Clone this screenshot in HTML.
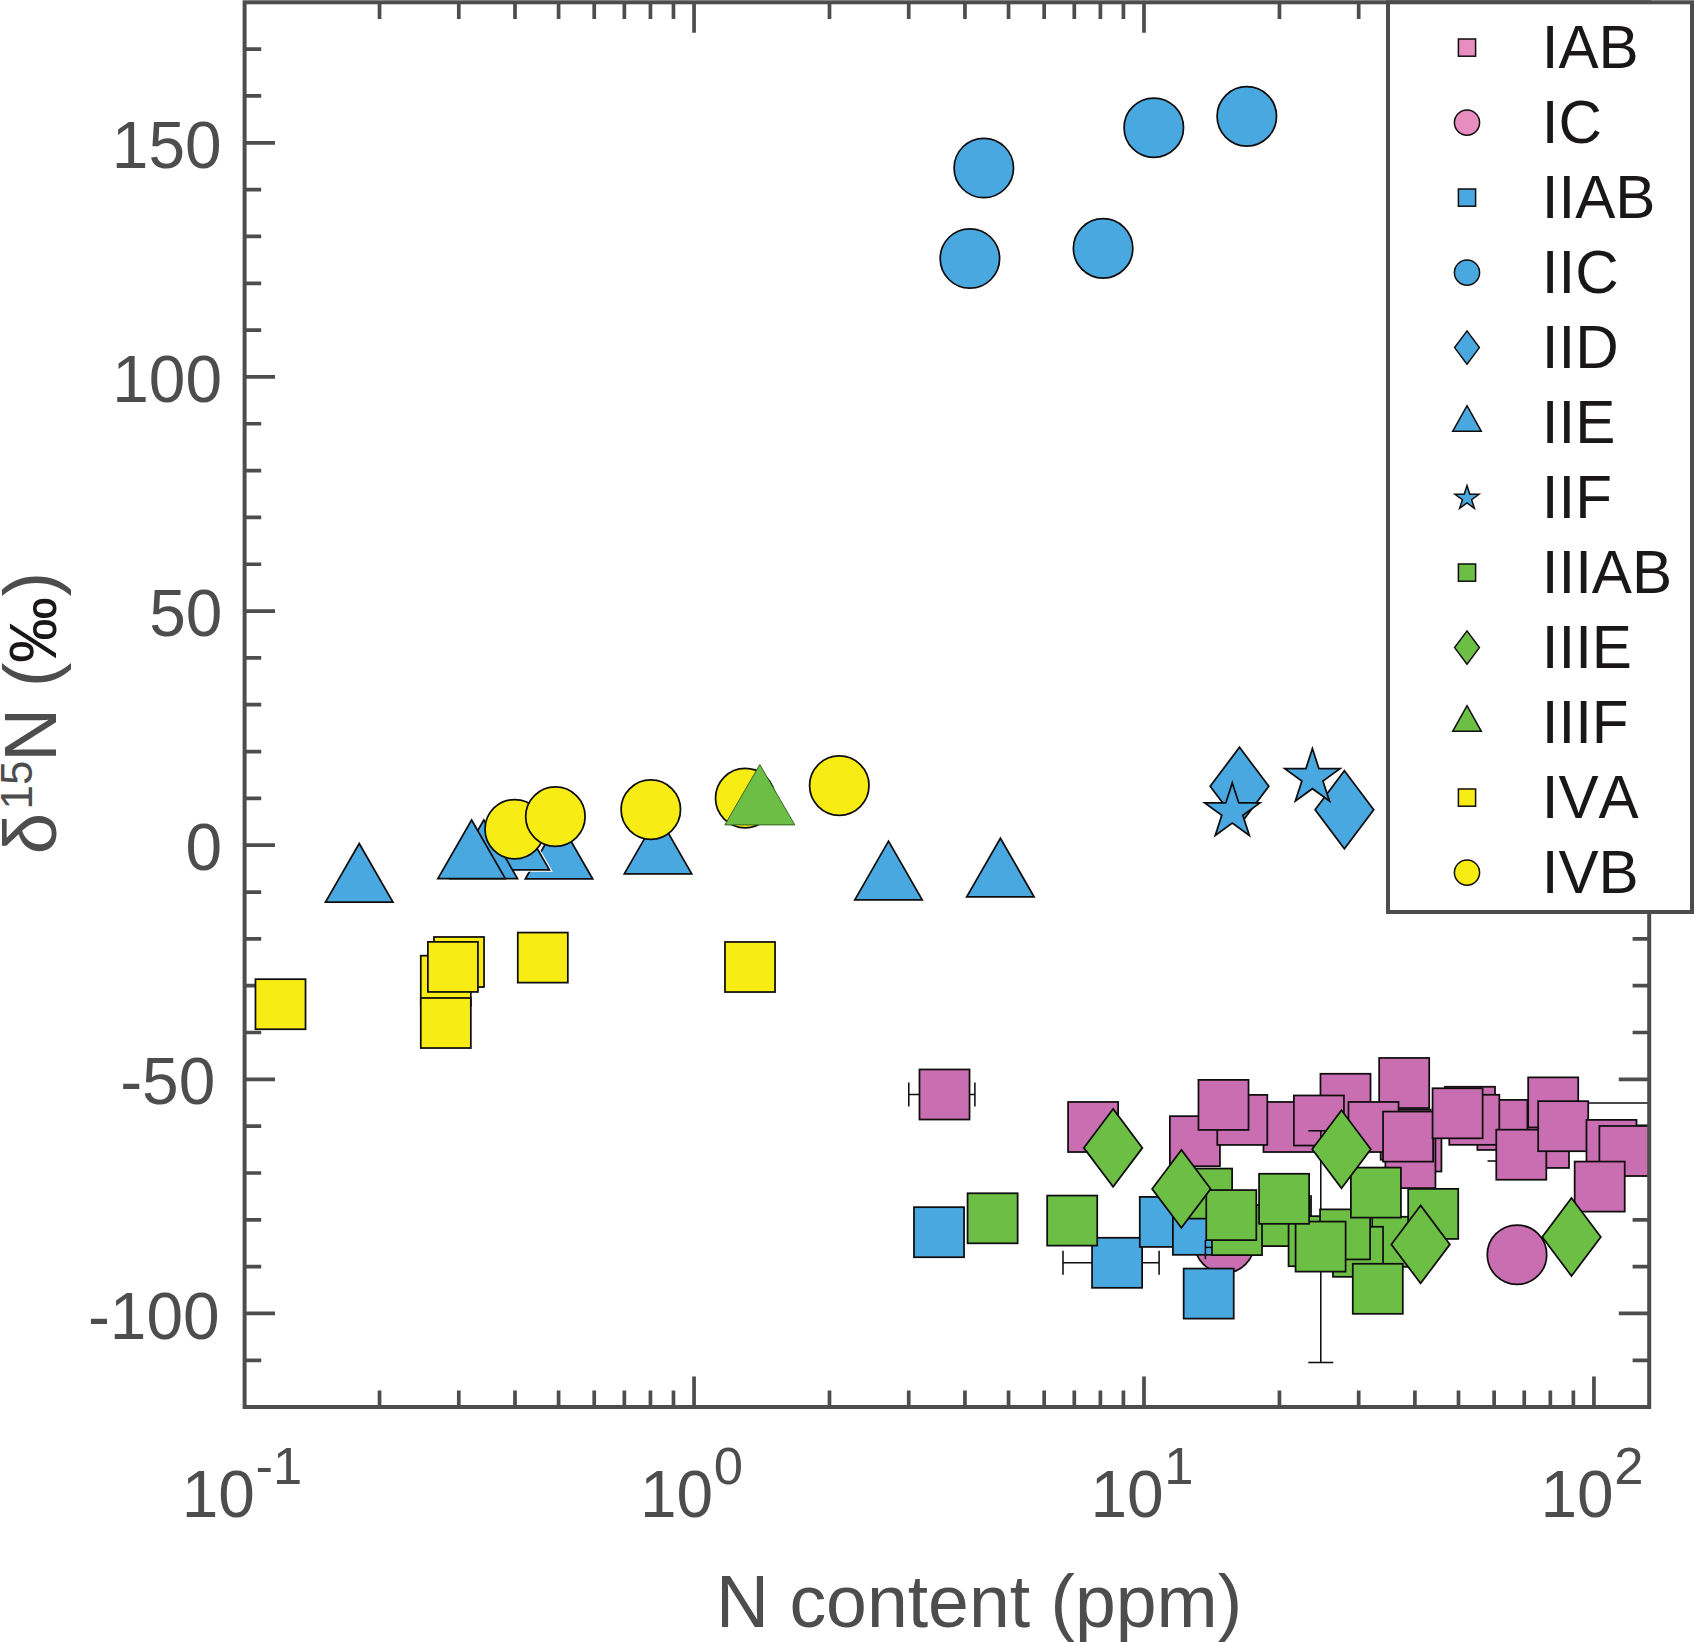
<!DOCTYPE html>
<html lang="en"><head><meta charset="utf-8"><title>N content vs delta-15N</title>
<style>html,body{margin:0;padding:0;background:#fff;}svg{display:block;}text{font-family:"Liberation Sans",sans-serif;}</style></head><body>
<svg width="1694" height="1642" viewBox="0 0 1694 1642">
<rect width="1694" height="1642" fill="#fff"/>
<g stroke="#4d4d4d" fill="none" stroke-width="3.7">
<path d="M244.6 1360.3h16.6M1649.2 1360.3h-16.6"/>
<path d="M244.6 1313.47h30.4M1649.2 1313.47h-30.4"/>
<path d="M244.6 1266.64h16.6M1649.2 1266.64h-16.6"/>
<path d="M244.6 1219.82h16.6M1649.2 1219.82h-16.6"/>
<path d="M244.6 1172.99h16.6M1649.2 1172.99h-16.6"/>
<path d="M244.6 1126.16h16.6M1649.2 1126.16h-16.6"/>
<path d="M244.6 1079.34h30.4M1649.2 1079.34h-30.4"/>
<path d="M244.6 1032.51h16.6M1649.2 1032.51h-16.6"/>
<path d="M244.6 985.68h16.6M1649.2 985.68h-16.6"/>
<path d="M244.6 938.85h16.6M1649.2 938.85h-16.6"/>
<path d="M244.6 892.03h16.6M1649.2 892.03h-16.6"/>
<path d="M244.6 845.2h30.4M1649.2 845.2h-30.4"/>
<path d="M244.6 798.37h16.6M1649.2 798.37h-16.6"/>
<path d="M244.6 751.55h16.6M1649.2 751.55h-16.6"/>
<path d="M244.6 704.72h16.6M1649.2 704.72h-16.6"/>
<path d="M244.6 657.89h16.6M1649.2 657.89h-16.6"/>
<path d="M244.6 611.07h30.4M1649.2 611.07h-30.4"/>
<path d="M244.6 564.24h16.6M1649.2 564.24h-16.6"/>
<path d="M244.6 517.41h16.6M1649.2 517.41h-16.6"/>
<path d="M244.6 470.58h16.6M1649.2 470.58h-16.6"/>
<path d="M244.6 423.76h16.6M1649.2 423.76h-16.6"/>
<path d="M244.6 376.93h30.4M1649.2 376.93h-30.4"/>
<path d="M244.6 330.1h16.6M1649.2 330.1h-16.6"/>
<path d="M244.6 283.28h16.6M1649.2 283.28h-16.6"/>
<path d="M244.6 236.45h16.6M1649.2 236.45h-16.6"/>
<path d="M244.6 189.62h16.6M1649.2 189.62h-16.6"/>
<path d="M244.6 142.8h30.4M1649.2 142.8h-30.4"/>
<path d="M244.6 95.97h16.6M1649.2 95.97h-16.6"/>
<path d="M244.6 49.14h16.6M1649.2 49.14h-16.6"/>
<path d="M379.55 1407v-16.6M379.55 2.3v16.6"/>
<path d="M458.78 1407v-16.6M458.78 2.3v16.6"/>
<path d="M515 1407v-16.6M515 2.3v16.6"/>
<path d="M558.6 1407v-16.6M558.6 2.3v16.6"/>
<path d="M594.23 1407v-16.6M594.23 2.3v16.6"/>
<path d="M624.35 1407v-16.6M624.35 2.3v16.6"/>
<path d="M650.45 1407v-16.6M650.45 2.3v16.6"/>
<path d="M673.46 1407v-16.6M673.46 2.3v16.6"/>
<path d="M694.05 1407v-30.4M694.05 2.3v30.4"/>
<path d="M829.5 1407v-16.6M829.5 2.3v16.6"/>
<path d="M908.73 1407v-16.6M908.73 2.3v16.6"/>
<path d="M964.95 1407v-16.6M964.95 2.3v16.6"/>
<path d="M1008.55 1407v-16.6M1008.55 2.3v16.6"/>
<path d="M1044.18 1407v-16.6M1044.18 2.3v16.6"/>
<path d="M1074.3 1407v-16.6M1074.3 2.3v16.6"/>
<path d="M1100.4 1407v-16.6M1100.4 2.3v16.6"/>
<path d="M1123.41 1407v-16.6M1123.41 2.3v16.6"/>
<path d="M1144 1407v-30.4M1144 2.3v30.4"/>
<path d="M1279.45 1407v-16.6M1279.45 2.3v16.6"/>
<path d="M1358.68 1407v-16.6M1358.68 2.3v16.6"/>
<path d="M1414.9 1407v-16.6M1414.9 2.3v16.6"/>
<path d="M1458.5 1407v-16.6M1458.5 2.3v16.6"/>
<path d="M1494.13 1407v-16.6M1494.13 2.3v16.6"/>
<path d="M1524.25 1407v-16.6M1524.25 2.3v16.6"/>
<path d="M1550.35 1407v-16.6M1550.35 2.3v16.6"/>
<path d="M1573.36 1407v-16.6M1573.36 2.3v16.6"/>
<path d="M1593.95 1407v-30.4M1593.95 2.3v30.4"/>
</g>
<clipPath id="ax"><rect x="244.6" y="2.3" width="1404.6" height="1404.7"/></clipPath>
<g clip-path="url(#ax)">
<line x1="908.8" y1="1094.5" x2="974.9" y2="1094.5" stroke="#0f0d0e" stroke-width="1.55"/>
<line x1="908.8" y1="1082.5" x2="908.8" y2="1106.5" stroke="#0f0d0e" stroke-width="1.55"/>
<line x1="974.9" y1="1082.5" x2="974.9" y2="1106.5" stroke="#0f0d0e" stroke-width="1.55"/>
<line x1="1578" y1="1103" x2="1660" y2="1103" stroke="#0f0d0e" stroke-width="1.55"/>
<line x1="1649.4" y1="1091" x2="1649.4" y2="1116" stroke="#0f0d0e" stroke-width="1.55"/>
<line x1="1487.5" y1="1161" x2="1500" y2="1161" stroke="#0f0d0e" stroke-width="1.55"/>
<rect x="919.48" y="1069.47" width="50.05" height="50.05" fill="#c96eb0" stroke="#0f0d0e" stroke-width="1.75"/>
<rect x="1068.07" y="1101.97" width="50.05" height="50.05" fill="#c96eb0" stroke="#0f0d0e" stroke-width="1.75"/>
<rect x="1169.88" y="1116.17" width="50.05" height="50.05" fill="#c96eb0" stroke="#0f0d0e" stroke-width="1.75"/>
<rect x="1263.47" y="1101.97" width="50.05" height="50.05" fill="#c96eb0" stroke="#0f0d0e" stroke-width="1.75"/>
<rect x="1217.27" y="1094.88" width="50.05" height="50.05" fill="#c96eb0" stroke="#0f0d0e" stroke-width="1.75"/>
<rect x="1198.47" y="1079.88" width="50.05" height="50.05" fill="#c96eb0" stroke="#0f0d0e" stroke-width="1.75"/>
<rect x="1320.47" y="1073.77" width="50.05" height="50.05" fill="#c96eb0" stroke="#0f0d0e" stroke-width="1.75"/>
<rect x="1293.88" y="1095.47" width="50.05" height="50.05" fill="#c96eb0" stroke="#0f0d0e" stroke-width="1.75"/>
<rect x="1379.17" y="1057.97" width="50.05" height="50.05" fill="#c96eb0" stroke="#0f0d0e" stroke-width="1.75"/>
<rect x="1380.67" y="1109.67" width="50.05" height="50.05" fill="#c96eb0" stroke="#0f0d0e" stroke-width="1.75"/>
<rect x="1391.38" y="1121.47" width="50.05" height="50.05" fill="#c96eb0" stroke="#0f0d0e" stroke-width="1.75"/>
<rect x="1348.47" y="1101.97" width="50.05" height="50.05" fill="#c96eb0" stroke="#0f0d0e" stroke-width="1.75"/>
<rect x="1385.38" y="1138.07" width="50.05" height="50.05" fill="#c96eb0" stroke="#0f0d0e" stroke-width="1.75"/>
<rect x="1383.07" y="1111.57" width="50.05" height="50.05" fill="#c96eb0" stroke="#0f0d0e" stroke-width="1.75"/>
<rect x="1444.97" y="1086.77" width="50.05" height="50.05" fill="#c96eb0" stroke="#0f0d0e" stroke-width="1.75"/>
<rect x="1518.97" y="1117.88" width="50.05" height="50.05" fill="#c96eb0" stroke="#0f0d0e" stroke-width="1.75"/>
<rect x="1477.38" y="1099.88" width="50.05" height="50.05" fill="#c96eb0" stroke="#0f0d0e" stroke-width="1.75"/>
<rect x="1449.27" y="1094.77" width="50.05" height="50.05" fill="#c96eb0" stroke="#0f0d0e" stroke-width="1.75"/>
<rect x="1432.57" y="1088.27" width="50.05" height="50.05" fill="#c96eb0" stroke="#0f0d0e" stroke-width="1.75"/>
<rect x="1528.17" y="1077.38" width="50.05" height="50.05" fill="#c96eb0" stroke="#0f0d0e" stroke-width="1.75"/>
<rect x="1496.27" y="1129.67" width="50.05" height="50.05" fill="#c96eb0" stroke="#0f0d0e" stroke-width="1.75"/>
<rect x="1538.17" y="1101.17" width="50.05" height="50.05" fill="#c96eb0" stroke="#0f0d0e" stroke-width="1.75"/>
<rect x="1586.47" y="1119.88" width="50.05" height="50.05" fill="#c96eb0" stroke="#0f0d0e" stroke-width="1.75"/>
<rect x="1599.38" y="1125.97" width="50.05" height="50.05" fill="#c96eb0" stroke="#0f0d0e" stroke-width="1.75"/>
<rect x="1574.67" y="1161.57" width="50.05" height="50.05" fill="#c96eb0" stroke="#0f0d0e" stroke-width="1.75"/>
<circle cx="1224.5" cy="1243.4" r="29.7" fill="#c96eb0" stroke="#0f0d0e" stroke-width="1.75"/>
<circle cx="1517" cy="1254.7" r="29.7" fill="#c96eb0" stroke="#0f0d0e" stroke-width="1.75"/>
<line x1="1063" y1="1262.8" x2="1159.1" y2="1262.8" stroke="#0f0d0e" stroke-width="1.55"/>
<line x1="1063" y1="1250.8" x2="1063" y2="1274.8" stroke="#0f0d0e" stroke-width="1.55"/>
<line x1="1159.1" y1="1250.8" x2="1159.1" y2="1274.8" stroke="#0f0d0e" stroke-width="1.55"/>
<rect x="913.98" y="1207.17" width="50.05" height="50.05" fill="#49a8df" stroke="#0f0d0e" stroke-width="1.75"/>
<rect x="1092.07" y="1237.77" width="50.05" height="50.05" fill="#49a8df" stroke="#0f0d0e" stroke-width="1.75"/>
<rect x="1139.77" y="1196.88" width="50.05" height="50.05" fill="#49a8df" stroke="#0f0d0e" stroke-width="1.75"/>
<rect x="1172.88" y="1204.77" width="50.05" height="50.05" fill="#49a8df" stroke="#0f0d0e" stroke-width="1.75"/>
<rect x="1183.67" y="1268.57" width="50.05" height="50.05" fill="#49a8df" stroke="#0f0d0e" stroke-width="1.75"/>
<line x1="1205.4" y1="1240" x2="1205.4" y2="1259.2" stroke="#0f0d0e" stroke-width="1.55"/>
<line x1="1205.4" y1="1247.4" x2="1213" y2="1247.4" stroke="#0f0d0e" stroke-width="1.55"/>
<circle cx="983.8" cy="168" r="29.7" fill="#49a8df" stroke="#0f0d0e" stroke-width="1.75"/>
<circle cx="969.9" cy="258.5" r="29.7" fill="#49a8df" stroke="#0f0d0e" stroke-width="1.75"/>
<circle cx="1103.1" cy="248.4" r="29.7" fill="#49a8df" stroke="#0f0d0e" stroke-width="1.75"/>
<circle cx="1153.8" cy="127.7" r="29.7" fill="#49a8df" stroke="#0f0d0e" stroke-width="1.75"/>
<circle cx="1246.8" cy="116.3" r="29.7" fill="#49a8df" stroke="#0f0d0e" stroke-width="1.75"/>
<polygon points="1239.5,747.3 1268.8,786.3 1239.5,825.3 1210.2,786.3" fill="#49a8df" stroke="#0f0d0e" stroke-width="1.75"/>
<polygon points="1344.4,770.7 1373.7,809.7 1344.4,848.7 1315.1,809.7" fill="#49a8df" stroke="#0f0d0e" stroke-width="1.75"/>
<polygon points="1232.3,782.9 1238.81,802.94 1259.88,802.94 1242.84,815.32 1249.35,835.36 1232.3,822.98 1215.25,835.36 1221.76,815.32 1204.72,802.94 1225.79,802.94" fill="#49a8df" stroke="#0f0d0e" stroke-width="1.75"/>
<polygon points="1312.4,748.6 1318.91,768.64 1339.98,768.64 1322.94,781.02 1329.45,801.06 1312.4,788.68 1295.35,801.06 1301.86,781.02 1284.82,768.64 1305.89,768.64" fill="#49a8df" stroke="#0f0d0e" stroke-width="1.75"/>
<polygon points="359.2,843.45 392.9,902.05 325.5,902.05" fill="#49a8df" stroke="#0f0d0e" stroke-width="1.75"/>
<polygon points="658,815.15 691.7,873.75 624.3,873.75" fill="#49a8df" stroke="#0f0d0e" stroke-width="1.75"/>
<polygon points="559,820.35 592.7,878.95 525.3,878.95" fill="#49a8df" stroke="#0f0d0e" stroke-width="1.75"/>
<polygon points="515.7,811.25 549.4,869.85 482,869.85" fill="#fff" stroke="#fff" stroke-width="4"/>
<polygon points="515.7,811.25 549.4,869.85 482,869.85" fill="#49a8df" stroke="#0f0d0e" stroke-width="1.75"/>
<polygon points="483.8,820.05 517.5,878.65 450.1,878.65" fill="#49a8df" stroke="#0f0d0e" stroke-width="1.75"/>
<polygon points="471.6,820.05 505.3,878.65 437.9,878.65" fill="#49a8df" stroke="#0f0d0e" stroke-width="1.75"/>
<polygon points="888.5,841.15 922.2,899.75 854.8,899.75" fill="#49a8df" stroke="#0f0d0e" stroke-width="1.75"/>
<polygon points="1000.4,838.25 1034.1,896.85 966.7,896.85" fill="#49a8df" stroke="#0f0d0e" stroke-width="1.75"/>
<line x1="1320.8" y1="1130.8" x2="1320.8" y2="1362.5" stroke="#0f0d0e" stroke-width="1.55"/>
<line x1="1308.3" y1="1130.8" x2="1333.3" y2="1130.8" stroke="#0f0d0e" stroke-width="1.55"/>
<line x1="1308.3" y1="1362.5" x2="1333.3" y2="1362.5" stroke="#0f0d0e" stroke-width="1.55"/>
<rect x="967.58" y="1193.27" width="50.05" height="50.05" fill="#6cbe45" stroke="#0f0d0e" stroke-width="1.75"/>
<rect x="1047.17" y="1195.57" width="50.05" height="50.05" fill="#6cbe45" stroke="#0f0d0e" stroke-width="1.75"/>
<rect x="1372.17" y="1216.77" width="50.05" height="50.05" fill="#6cbe45" stroke="#0f0d0e" stroke-width="1.75"/>
<rect x="1332.97" y="1226.77" width="50.05" height="50.05" fill="#6cbe45" stroke="#0f0d0e" stroke-width="1.75"/>
<rect x="1260.97" y="1196.07" width="50.05" height="50.05" fill="#6cbe45" stroke="#0f0d0e" stroke-width="1.75"/>
<rect x="1288.57" y="1216.17" width="50.05" height="50.05" fill="#6cbe45" stroke="#0f0d0e" stroke-width="1.75"/>
<rect x="1320.07" y="1209.38" width="50.05" height="50.05" fill="#6cbe45" stroke="#0f0d0e" stroke-width="1.75"/>
<rect x="1295.57" y="1221.57" width="50.05" height="50.05" fill="#6cbe45" stroke="#0f0d0e" stroke-width="1.75"/>
<rect x="1350.88" y="1167.57" width="50.05" height="50.05" fill="#6cbe45" stroke="#0f0d0e" stroke-width="1.75"/>
<rect x="1352.77" y="1263.77" width="50.05" height="50.05" fill="#6cbe45" stroke="#0f0d0e" stroke-width="1.75"/>
<rect x="1408.17" y="1188.88" width="50.05" height="50.05" fill="#6cbe45" stroke="#0f0d0e" stroke-width="1.75"/>
<rect x="1211.97" y="1205.07" width="50.05" height="50.05" fill="#6cbe45" stroke="#0f0d0e" stroke-width="1.75"/>
<rect x="1182.07" y="1168.57" width="50.05" height="50.05" fill="#6cbe45" stroke="#0f0d0e" stroke-width="1.75"/>
<rect x="1206.27" y="1190.07" width="50.05" height="50.05" fill="#6cbe45" stroke="#0f0d0e" stroke-width="1.75"/>
<rect x="1259.07" y="1173.77" width="50.05" height="50.05" fill="#6cbe45" stroke="#0f0d0e" stroke-width="1.75"/>
<polygon points="1113.1,1108.9 1142.4,1147.9 1113.1,1186.9 1083.8,1147.9" fill="#6cbe45" stroke="#0f0d0e" stroke-width="1.75"/>
<polygon points="1181.4,1149.9 1210.7,1188.9 1181.4,1227.9 1152.1,1188.9" fill="#6cbe45" stroke="#0f0d0e" stroke-width="1.75"/>
<polygon points="1341.5,1110.3 1370.8,1149.3 1341.5,1188.3 1312.2,1149.3" fill="#6cbe45" stroke="#0f0d0e" stroke-width="1.75"/>
<polygon points="1420.6,1205.4 1449.9,1244.4 1420.6,1283.4 1391.3,1244.4" fill="#6cbe45" stroke="#0f0d0e" stroke-width="1.75"/>
<polygon points="1571.5,1198 1600.8,1237 1571.5,1276 1542.2,1237" fill="#6cbe45" stroke="#0f0d0e" stroke-width="1.75"/>
<rect x="255.47" y="979.18" width="50.05" height="50.05" fill="#f7ec13" stroke="#0f0d0e" stroke-width="1.75"/>
<rect x="420.78" y="955.68" width="50.05" height="50.05" fill="#f7ec13" stroke="#0f0d0e" stroke-width="1.75"/>
<rect x="433.98" y="936.98" width="50.05" height="50.05" fill="#f7ec13" stroke="#0f0d0e" stroke-width="1.75"/>
<rect x="427.88" y="941.88" width="50.05" height="50.05" fill="#f7ec13" stroke="#0f0d0e" stroke-width="1.75"/>
<rect x="420.78" y="997.98" width="50.05" height="50.05" fill="#f7ec13" stroke="#0f0d0e" stroke-width="1.75"/>
<rect x="517.77" y="932.58" width="50.05" height="50.05" fill="#f7ec13" stroke="#0f0d0e" stroke-width="1.75"/>
<rect x="724.98" y="941.98" width="50.05" height="50.05" fill="#f7ec13" stroke="#0f0d0e" stroke-width="1.75"/>
<circle cx="514.7" cy="829.2" r="29.7" fill="#f7ec13" stroke="#0f0d0e" stroke-width="1.75"/>
<circle cx="555.4" cy="816.6" r="29.7" fill="#f7ec13" stroke="#0f0d0e" stroke-width="1.75"/>
<circle cx="650.8" cy="809.6" r="29.7" fill="#f7ec13" stroke="#0f0d0e" stroke-width="1.75"/>
<circle cx="745.2" cy="798.1" r="29.7" fill="#f7ec13" stroke="#0f0d0e" stroke-width="1.75"/>
<circle cx="839.3" cy="785.6" r="29.7" fill="#f7ec13" stroke="#0f0d0e" stroke-width="1.75"/>
<polygon points="759.8,764.5 794.8,824.9 724.8,824.9" fill="#6cbe45" stroke="#2d5a1e" stroke-width="0.9"/>
</g>
<rect x="244.6" y="2.3" width="1404.6" height="1404.7" fill="none" stroke="#4d4d4d" stroke-width="4.0"/>
<g fill="#4d4d4d" font-size="65.8" text-anchor="end">
<text x="221.6" y="167.9">150</text>
<text x="222.0" y="402.03">100</text>
<text x="222.4" y="636.17">50</text>
<text x="222.0" y="870.3">0</text>
<text x="215.3" y="1104.43">-50</text>
<text x="219.6" y="1338.57">-100</text>
</g>
<g fill="#4d4d4d" font-size="65.8">
<text x="181.7" y="1517.0">10<tspan font-size="52.6" dy="-33.3" dx="0.5">-1</tspan></text>
<text x="640" y="1517.0">10<tspan font-size="52.6" dy="-33.3" dx="0.5">0</tspan></text>
<text x="1090.5" y="1517.0">10<tspan font-size="52.6" dy="-33.3" dx="0.5">1</tspan></text>
<text x="1540.5" y="1517.0">10<tspan font-size="52.6" dy="-33.3" dx="0.5">2</tspan></text>
</g>
<text x="979.1" y="1626.7" font-size="73.4" fill="#4d4d4d" text-anchor="middle">N content (ppm)</text>
<text transform="translate(55.7 854.2) rotate(-90)" font-size="74.6" fill="#4d4d4d">δ</text>
<text transform="translate(31.6 809.4) rotate(-90)" font-size="44" fill="#4d4d4d">15</text>
<text transform="translate(55.7 761.8) rotate(-90)" font-size="74.6" fill="#4d4d4d">N</text>
<text transform="translate(55.7 686.9) rotate(-90)" font-size="73.4" fill="#4d4d4d">(</text>
<text transform="translate(55.7 663) rotate(-90)" font-size="66" fill="#1a1718">‰</text>
<text transform="translate(55.7 596.6) rotate(-90)" font-size="73.4" fill="#4d4d4d">)</text>
<rect x="1388.0" y="2.3" width="304" height="909.7" fill="#fff" stroke="#4d4d4d" stroke-width="4.0"/>
<g fill="#1a1718" font-size="60.2" style="font-kerning:none">
<text x="1541.7" y="68.3">IAB</text>
<text x="1541.7" y="143.3">IC</text>
<text x="1541.7" y="218.3">IIAB</text>
<text x="1541.7" y="293.3">IIC</text>
<text x="1541.7" y="368.3">IID</text>
<text x="1541.7" y="443.3">IIE</text>
<text x="1541.7" y="518.3">IIF</text>
<text x="1541.7" y="593.3">IIIAB</text>
<text x="1541.7" y="668.3">IIIE</text>
<text x="1541.7" y="743.3">IIIF</text>
<text x="1541.7" y="818.3">IVA</text>
<text x="1541.7" y="893.3">IVB</text>
</g>
<rect x="1458.4" y="39" width="17.2" height="17.2" fill="#e88dc0" stroke="#0f0d0e" stroke-width="1.5"/>
<circle cx="1467" cy="122.6" r="12.6" fill="#e88dc0" stroke="#0f0d0e" stroke-width="1.5"/>
<rect x="1458.4" y="189" width="17.2" height="17.2" fill="#49a8df" stroke="#0f0d0e" stroke-width="1.5"/>
<circle cx="1467" cy="272.6" r="12.6" fill="#49a8df" stroke="#0f0d0e" stroke-width="1.5"/>
<polygon points="1467,330.9 1479.4,347.6 1467,364.3 1454.6,347.6" fill="#49a8df" stroke="#0f0d0e" stroke-width="1.5"/>
<polygon points="1467,405.7 1481.3,431.3 1452.7,431.3" fill="#49a8df" stroke="#0f0d0e" stroke-width="1.5"/>
<polygon points="1467,485.6 1469.83,494.31 1478.98,494.31 1471.58,499.69 1474.41,508.39 1467,503.01 1459.59,508.39 1462.42,499.69 1455.02,494.31 1464.17,494.31" fill="#49a8df" stroke="#0f0d0e" stroke-width="1.5"/>
<rect x="1458.4" y="564" width="17.2" height="17.2" fill="#6cbe45" stroke="#0f0d0e" stroke-width="1.5"/>
<polygon points="1467,630.9 1479.4,647.6 1467,664.3 1454.6,647.6" fill="#6cbe45" stroke="#0f0d0e" stroke-width="1.5"/>
<polygon points="1467,705.7 1481.3,731.3 1452.7,731.3" fill="#6cbe45" stroke="#0f0d0e" stroke-width="1.5"/>
<rect x="1458.4" y="789" width="17.2" height="17.2" fill="#f7ec13" stroke="#0f0d0e" stroke-width="1.5"/>
<circle cx="1467" cy="872.6" r="12.6" fill="#f7ec13" stroke="#0f0d0e" stroke-width="1.5"/>
</svg></body></html>
